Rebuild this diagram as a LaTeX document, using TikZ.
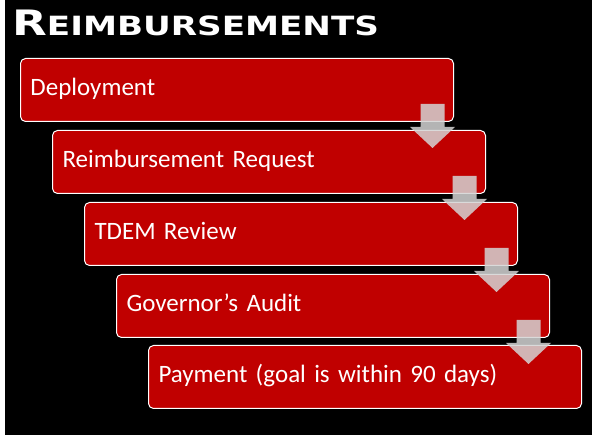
\documentclass[tikz,border=0pt]{standalone}
\usepackage{fontspec}
\setmainfont{Carlito}
\newfontfamily\titlefont[FakeStretch=1.29]{DejaVu Sans}
\usetikzlibrary{positioning, calc}
\definecolor{StageRed}{HTML}{C00000}
\definecolor{ArrowGray}{HTML}{D4D4D4}
\newcommand\stagefont{\fontsize{25}{28}\selectfont\spaceskip=3.6pt plus 1pt\relax}

\begin{document}
\begin{tikzpicture}[x=1pt, y=-1pt,
    stage/.style={draw=white, line width=1pt, fill=StageRed, rounded corners=5pt,
                  anchor=north west, minimum width=433pt, minimum height=63pt,
                  text width=413pt, inner xsep=10pt, align=left, text=white,
                  font=\stagefont, text height=16pt, text depth=5pt},
    flowarrow/.style={fill=ArrowGray, fill opacity=0.85}]
% background
\fill[white] (0,0) rectangle (592,435);
\fill[black] (5,0) rectangle (592,435);
\useasboundingbox (0,0) rectangle (592,435);

\node[anchor=base west, text=white, inner sep=0pt] (title) at (12,36)
    {\titlefont\bfseries{\fontsize{35}{35}\selectfont R}\fontsize{26.5}{27}\selectfont EIMBURSEMENTS};

% steps
\node[stage] (deploy)  at (20,58)   {Deployment};
\node[stage] (request) at (52,130)  {Reimbursement Request};
\node[stage] (review)  at (84,202)  {TDEM Review};
\node[stage] (audit)   at (116,274) {Governor’s Audit};
\node[stage] (payment) at (148,345) {Payment (goal is within 90 days)};

% down arrows between steps
\foreach \src/\dst in {deploy/request, request/review, review/audit, audit/payment}{
  \fill[flowarrow] ($(\src.south east)+(-33.5,-18)$) -- ++(24,0) -- ++(0,23)
    -- ++(10.5,0) -- ($(\src.south east)+(-21.5,26)$) -- ++(-22.5,-21)
    -- ++(10.5,0) -- cycle;
}
\end{tikzpicture}
\end{document}
